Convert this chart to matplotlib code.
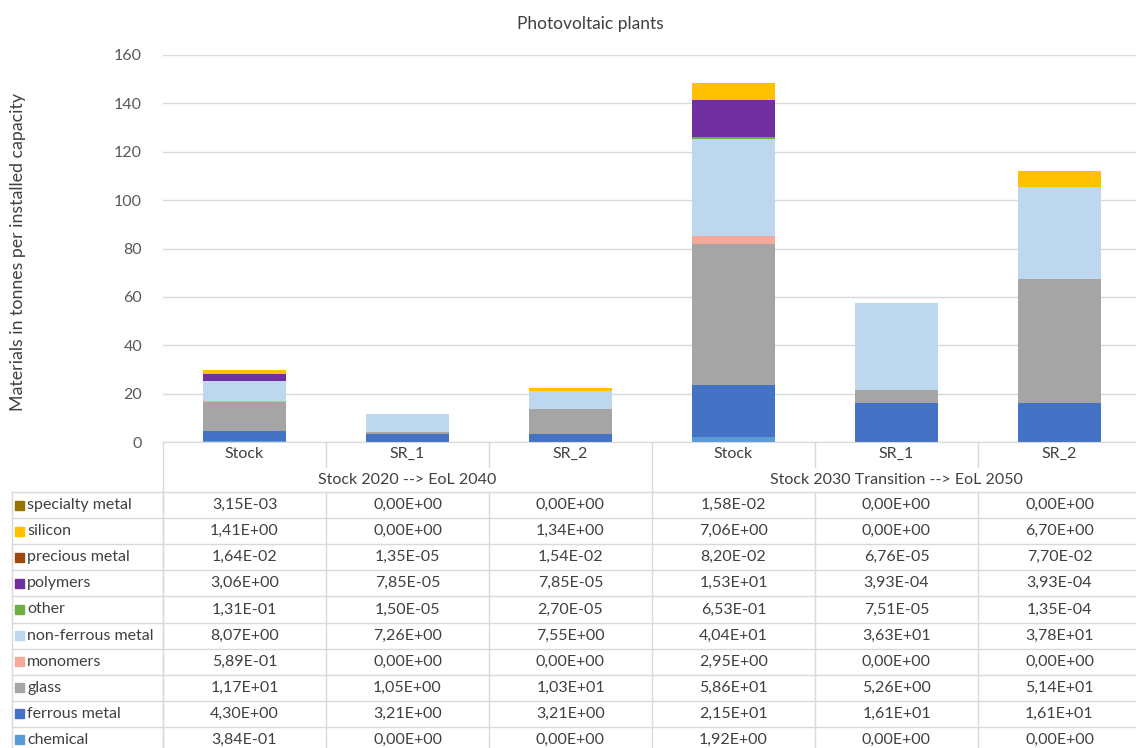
import matplotlib
matplotlib.use("Agg")
import matplotlib.pyplot as plt
from matplotlib.patches import Rectangle
import numpy as np

plt.rcParams['font.family'] = ['Lato', 'DejaVu Sans']

# data (tonnes per installed capacity)
bars = ['Stock', 'SR_1', 'SR_2', 'Stock', 'SR_1', 'SR_2']
groups = ['Stock 2020 --> EoL 2040', 'Stock 2030 Transition --> EoL 2050']

materials = ['chemical', 'ferrous metal', 'glass', 'monomers', 'non-ferrous metal',
             'other', 'polymers', 'precious metal', 'silicon', 'specialty metal']

chemical = [3.84e-01, 0.0, 0.0, 1.92e+00, 0.0, 0.0]
ferrous_metal = [4.30e+00, 3.21e+00, 3.21e+00, 2.15e+01, 1.61e+01, 1.61e+01]
glass = [1.17e+01, 1.05e+00, 1.03e+01, 5.86e+01, 5.26e+00, 5.14e+01]
monomers = [5.89e-01, 0.0, 0.0, 2.95e+00, 0.0, 0.0]
non_ferrous_metal = [8.07e+00, 7.26e+00, 7.55e+00, 4.04e+01, 3.63e+01, 3.78e+01]
other = [1.31e-01, 1.50e-05, 2.70e-05, 6.53e-01, 7.51e-05, 1.35e-04]
polymers = [3.06e+00, 7.85e-05, 7.85e-05, 1.53e+01, 3.93e-04, 3.93e-04]
precious_metal = [1.64e-02, 1.35e-05, 1.54e-02, 8.20e-02, 6.76e-05, 7.70e-02]
silicon = [1.41e+00, 0.0, 1.34e+00, 7.06e+00, 0.0, 6.70e+00]
specialty_metal = [3.15e-03, 0.0, 0.0, 1.58e-02, 0.0, 0.0]

colors = ['#5B9BD5', '#4472C4', '#A5A5A5', '#F4A99B', '#BDD7EE',
          '#70AD47', '#7030A0', '#9E480E', '#FFC000', '#997300']

series = [chemical, ferrous_metal, glass, monomers, non_ferrous_metal,
          other, polymers, precious_metal, silicon, specialty_metal]

W, H = 1136, 748
fig = plt.figure(figsize=(W / 100, H / 100), dpi=100)

# pixel layout
x0 = 163        # left edge of plot / table columns
col_w = 163     # width of one table column
y_zero = 442    # pixel row of the value 0
y_top = 55      # pixel row of the value 160
fs = 11.5

ax = fig.add_axes([x0 / W, (H - y_zero) / H, 6 * col_w / W, (y_zero - y_top) / H])
ax.set_xlim(0, 6)
ax.set_ylim(0, 160)
ax.set_yticks(np.arange(0, 161, 20))
ax.set_xticks([])
ax.grid(axis='y', color='#D9D9D9', linewidth=1)
ax.set_axisbelow(True)
for s in ['top', 'right', 'left']:
    ax.spines[s].set_visible(False)
ax.spines['bottom'].set_color('#D9D9D9')
ax.tick_params(axis='y', length=0, pad=15, labelsize=fs, labelcolor='#595959')

xpos = np.arange(6) + 0.5
bottom = np.zeros(6)
for name, vals, c in zip(materials, series, colors):
    ax.bar(xpos, vals, width=0.51, bottom=bottom, color=c, label=name)
    bottom += np.array(vals)

fig.text(590 / W, 1 - 24 / H, 'Photovoltaic plants', ha='center', va='center',
         fontsize=12.5, color='#404040')
fig.text(18 / W, 1 - 252 / H, 'Materials in tonnes per installed capacity',
         rotation=90, ha='center', va='center', fontsize=12.8, color='#404040')

# data table drawn in pixel coordinates
tax = fig.add_axes([0, 0, 1, 1])
tax.set_xlim(0, W)
tax.set_ylim(H, 0)
tax.axis('off')
lc = '#D9D9D9'
tc = '#404040'
x_end = x0 + 6 * col_w
row_h = 26.1
y_h1 = 467
y_h2 = 492

# header rows
tax.plot([x0, x0], [y_zero, H], color=lc, lw=1)
for k in range(1, 6):
    ytop = y_h2 if k == 3 else y_h1
    tax.plot([x0 + k * col_w] * 2, [y_zero, ytop], color=lc, lw=1)
for i, b in enumerate(bars):
    tax.text(x0 + (i + 0.5) * col_w, (y_zero + y_h1) / 2 - 1, b, ha='center', va='center',
             fontsize=fs, color=tc)
for g, name in enumerate(groups):
    tax.text(x0 + (1.5 + 3 * g) * col_w, (y_h1 + y_h2) / 2, name, ha='center', va='center',
             fontsize=fs, color=tc)

# data rows, top row = last material
nrows = len(materials)
for r in range(nrows + 1):
    y = y_h2 + r * row_h
    tax.plot([12, x_end], [y, y], color=lc, lw=1)
for xv in [12] + [x0 + k * col_w for k in range(7)]:
    tax.plot([xv, xv], [y_h2, y_h2 + nrows * row_h], color=lc, lw=1)

for r in range(nrows):
    m = nrows - 1 - r
    yc = y_h2 + (r + 0.5) * row_h
    tax.add_patch(Rectangle((15, yc - 4.5), 9, 9, color=colors[m]))
    tax.text(27, yc, materials[m], ha='left', va='center', fontsize=fs, color=tc)
    for i in range(6):
        s = f"{series[m][i]:.2E}".replace('.', ',')
        tax.text(x0 + (i + 0.5) * col_w, yc, s, ha='center', va='center',
                 fontsize=fs, color=tc)

fig.savefig('out.png', dpi=100)
